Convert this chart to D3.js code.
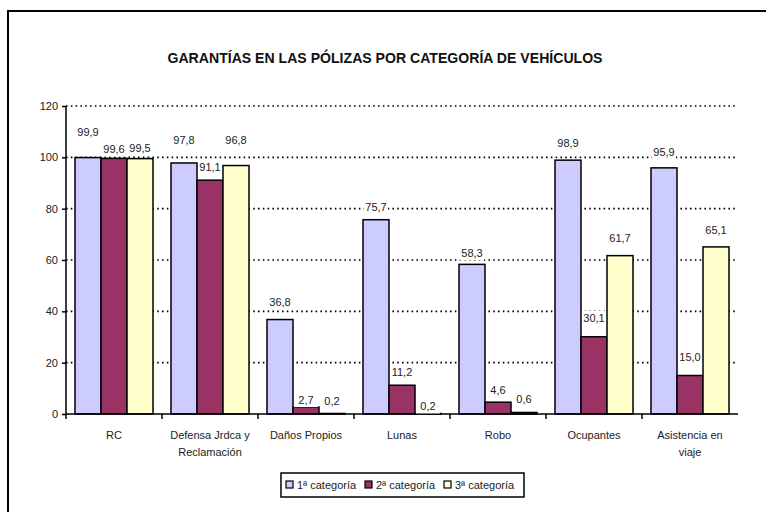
<html>
    <head>
        <meta charset="UTF-8">
        <title>Garantías por categoría</title>
        <script src="https://cdn.jsdelivr.net/npm/d3@7/dist/d3.min.js"></script>
        <style>
            body { margin: 0; background: #fff; }
            svg text { font-family: "Liberation Sans", Arial, sans-serif; fill: #222; }
        </style>
    </head>
    <body>
        <div id="chart"></div>
        <script>
            //-----------------------------------------
            // datos
            var categories = ["RC", "Defensa Jrdca y Reclamación", "Daños Propios", "Lunas", "Robo", "Ocupantes", "Asistencia en viaje"];
            var categoryLines = [["RC"], ["Defensa Jrdca y", "Reclamación"], ["Daños Propios"], ["Lunas"], ["Robo"], ["Ocupantes"], ["Asistencia en", "viaje"]];
            var serie1 = [99.9, 97.8, 36.8, 75.7, 58.3, 98.9, 95.9];
            var serie2 = [99.6, 91.1, 2.7, 11.2, 4.6, 30.1, 15.0];
            var serie3 = [99.5, 96.8, 0.2, 0.2, 0.6, 61.7, 65.1];
            var seriesNames = ["1ª categoría", "2ª categoría", "3ª categoría"];
            var yTicks = [0, 20, 40, 60, 80, 100, 120];

            // colores y posicion de las etiquetas (px encima de la barra)
            var colors = ["#CCCCFF", "#993366", "#FFFFCC"];
            var labelLift = [
                [25, 23, 17, 13, 11, 17, 16],
                [9, 13, 7, 13, 12, 19, 18],
                [10, 25, 12, 7, 13, 17, 17]
            ];

            var W = 766, H = 512;
            var plotL = 66, plotR = 738, plotT = 106, plotB = 414;

            var svg = d3.select("#chart").append("svg")
                    .attr("width", W)
                    .attr("height", H);

            // marco
            svg.append("rect")
                    .attr("x", 8).attr("y", 11)
                    .attr("width", 800).attr("height", 540)
                    .attr("fill", "none")
                    .attr("stroke", "#000")
                    .attr("stroke-width", 2);

            svg.append("text")
                    .attr("x", 385).attr("y", 63)
                    .attr("text-anchor", "middle")
                    .attr("textLength", 435)
                    .attr("lengthAdjust", "spacingAndGlyphs")
                    .style("font-family", "'Liberation Sans Narrow', 'Arial Narrow', 'Liberation Sans', sans-serif")
                    .style("font-weight", "bold")
                    .style("font-size", "15px")
                    .style("fill", "#111")
                    .text("GARANTÍAS EN LAS PÓLIZAS POR CATEGORÍA DE VEHÍCULOS");

            var x0 = d3.scaleBand()
                    .domain(categories)
                    .range([plotL, plotR])
                    .paddingInner(0.1875)
                    .paddingOuter(0.09375);
            var x1 = d3.scaleBand()
                    .domain([0, 1, 2])
                    .range([0, x0.bandwidth()]);
            var y = d3.scaleLinear()
                    .domain([0, 120])
                    .range([plotB, plotT]);

            // lineas de division
            svg.append("g").selectAll("line")
                    .data(yTicks.filter(function (d) { return d > 0; }))
                    .enter().append("line")
                    .attr("x1", plotL).attr("x2", plotR)
                    .attr("y1", function (d) { return y(d); })
                    .attr("y2", function (d) { return y(d); })
                    .attr("stroke", "#000")
                    .attr("stroke-width", 1.6)
                    .attr("stroke-dasharray", "1.6,3.2");

            var series = [serie1, serie2, serie3];
            var rows = [];
            series.forEach(function (vals, s) {
                vals.forEach(function (v, i) {
                    rows.push({s: s, i: i, cat: categories[i], v: v});
                });
            });

            svg.append("g").selectAll("rect")
                    .data(rows)
                    .enter().append("rect")
                    .attr("x", function (d) { return x0(d.cat) + x1(d.s); })
                    .attr("y", function (d) { return y(d.v); })
                    .attr("width", x1.bandwidth())
                    .attr("height", function (d) { return plotB - y(d.v); })
                    .attr("fill", function (d) { return colors[d.s]; })
                    .attr("stroke", "#000")
                    .attr("stroke-width", 1.5);

            // eje y
            var yAxis = svg.append("g")
                    .attr("transform", "translate(" + plotL + ",0)")
                    .call(d3.axisLeft(y).tickValues(yTicks).tickSize(4).tickSizeOuter(0).tickPadding(4));
            yAxis.select(".domain").remove();
            yAxis.selectAll("line").attr("stroke", "#000").attr("stroke-width", 1.5);
            yAxis.selectAll("text").style("font-size", "11px").style("font-family", "'Liberation Sans', Arial, sans-serif").attr("fill", "#222");
            svg.append("line")
                    .attr("x1", plotL).attr("x2", plotL)
                    .attr("y1", plotT).attr("y2", plotB + 5)
                    .attr("stroke", "#000").attr("stroke-width", 1.5);

            // eje x
            svg.append("line")
                    .attr("x1", plotL).attr("x2", plotR)
                    .attr("y1", plotB).attr("y2", plotB)
                    .attr("stroke", "#000").attr("stroke-width", 1.5);
            var step = x0.step();
            svg.append("g").selectAll("line")
                    .data(categories.slice(1))
                    .enter().append("line")
                    .attr("x1", function (d) { return x0(d) - x0.paddingOuter() * step; })
                    .attr("x2", function (d) { return x0(d) - x0.paddingOuter() * step; })
                    .attr("y1", plotB).attr("y2", plotB + 5)
                    .attr("stroke", "#000").attr("stroke-width", 1.5);

            var catLabels = svg.append("g").selectAll("text")
                    .data(categories)
                    .enter().append("text")
                    .attr("text-anchor", "middle")
                    .style("font-size", "11px");
            catLabels.selectAll("tspan")
                    .data(function (d, i) {
                        return categoryLines[i].map(function (t) { return {t: t, cat: d}; });
                    })
                    .enter().append("tspan")
                    .attr("x", function (d) { return x0(d.cat) + x0.bandwidth() / 2; })
                    .attr("y", function (d, k) { return 439 + k * 17; })
                    .text(function (d) { return d.t; });

            // etiquetas de valores
            var fmt = function (v) { return d3.format(".1f")(v).replace(".", ","); };
            var lbl = svg.append("g").selectAll("g")
                    .data(rows)
                    .enter().append("g")
                    .attr("transform", function (d) {
                        var cx = x0(d.cat) + x1(d.s) + x1.bandwidth() / 2;
                        var cy = y(d.v) - labelLift[d.s][d.i];
                        return "translate(" + cx + "," + cy + ")";
                    });
            lbl.append("rect")
                    .attr("x", -12).attr("y", -7)
                    .attr("width", 24).attr("height", 14)
                    .attr("fill", "#fff");
            lbl.append("text")
                    .attr("text-anchor", "middle")
                    .attr("dy", "0.35em")
                    .style("font-size", "11px")
                    .text(function (d) { return fmt(d.v); });

            // leyenda
            var leg = svg.append("g");
            leg.append("rect")
                    .attr("x", 281).attr("y", 473)
                    .attr("width", 243).attr("height", 24)
                    .attr("fill", "#fff")
                    .attr("stroke", "#000")
                    .attr("stroke-width", 1.5);
            var legX = [286, 365, 444];
            var items = leg.selectAll("g.item")
                    .data(seriesNames)
                    .enter().append("g")
                    .attr("class", "item")
                    .attr("transform", function (d, i) { return "translate(" + legX[i] + ",481)"; });
            items.append("rect")
                    .attr("width", 7).attr("height", 7)
                    .attr("fill", function (d, i) { return colors[i]; })
                    .attr("stroke", "#000")
                    .attr("stroke-width", 1.2);
            items.append("text")
                    .attr("x", 11).attr("y", 4)
                    .attr("dy", "0.35em")
                    .style("font-size", "11px")
                    .text(function (d) { return d; });
        </script>
    </body>
</html>
